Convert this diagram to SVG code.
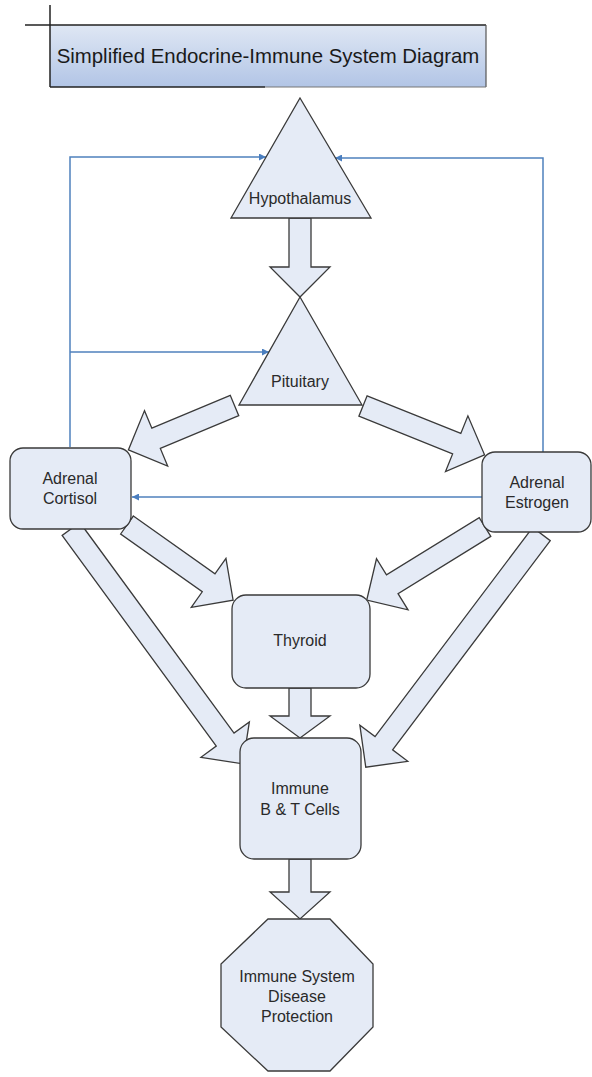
<svg xmlns="http://www.w3.org/2000/svg" width="592" height="1077" viewBox="0 0 592 1077">
<defs>
<linearGradient id="tg" x1="0" y1="0" x2="0" y2="1">
<stop offset="0" stop-color="#dfe7f4"/>
<stop offset="1" stop-color="#b2c5e6"/>
</linearGradient>
<marker id="ah" viewBox="0 0 10 10" refX="10" refY="5" markerWidth="8" markerHeight="7" orient="auto" markerUnits="userSpaceOnUse">
<path d="M0,0 L10,5 L0,10 Z" fill="#4a7ebf"/>
</marker>
<style>
.sh{fill:#e5ebf6;stroke:#3a3a3a;stroke-width:1.3;stroke-linejoin:miter}
.bl{fill:none;stroke:#4f81bd;stroke-width:1.5}
.t{font-family:"Liberation Sans",Arial,sans-serif;font-size:16px;fill:#2a2a2a;text-anchor:middle}
</style>
</defs>
<rect width="592" height="1077" fill="#ffffff"/>
<g id="title">
<rect x="50" y="25" width="436" height="62" fill="url(#tg)"/>
<line x1="25" y1="25" x2="486" y2="25" stroke="#222" stroke-width="1.3"/>
<line x1="50" y1="5" x2="50" y2="87" stroke="#222" stroke-width="1.5"/>
<line x1="486" y1="25" x2="486" y2="87" stroke="#555" stroke-width="1.2"/>
<line x1="50" y1="87" x2="265" y2="87" stroke="#222" stroke-width="1.5"/>
<line x1="265" y1="87" x2="486" y2="87" stroke="#777" stroke-width="1.2"/>
<text x="268" y="63" style="font-family:'Liberation Sans',Arial,sans-serif;font-size:20.4px;fill:#1a1a1a" text-anchor="middle">Simplified Endocrine-Immune System Diagram</text>
</g>
<g id="connectors">
<path class="sh" d="M289,218 H311 V267 H330 L300,297 L270,267 H289 Z"/>
<path class="sh" d="M289,688 H311 V716 H330 L300,738 L270,716 H289 Z"/>
<path class="sh" d="M289,859 H311 V892 H330 L300,919 L270,892 H289 Z"/>
<path class="sh" transform="translate(234.5,405.5) rotate(157.3)" d="M0,-11 H85 V-30 L115,0 L85,30 V11 H0 Z"/>
<path class="sh" transform="translate(363,406) rotate(21.9)" d="M0,-11 H101 V-30 L131,0 L101,30 V11 H0 Z"/>
<path class="sh" transform="translate(127,525) rotate(35.3)" d="M0,-11 H100 V-30 L130,0 L100,30 V11 H0 Z"/>
<path class="sh" transform="translate(71,529) rotate(53.8)" d="M0,-11 H261 V-30 L291,0 L261,30 V11 H0 Z"/>
<path class="sh" transform="translate(485,527) rotate(148.3)" d="M0,-11 H109 V-30 L139,0 L109,30 V11 H0 Z"/>
<path class="sh" transform="translate(541.5,534) rotate(127)" d="M0,-11 H262 V-30 L292,0 L262,30 V11 H0 Z"/>
<polyline class="bl" points="70,447 70,157 266,157" marker-end="url(#ah)"/>
<polyline class="bl" points="70,352 269,352" marker-end="url(#ah)"/>
<polyline class="bl" points="543,452 543,158 335,158" marker-end="url(#ah)"/>
<polyline class="bl" points="482,497 132,497" marker-end="url(#ah)"/>
</g>
<g id="hypothalamus">
<polygon class="sh" points="300,98 371,218 231,218"/>
<text class="t" x="300" y="204">Hypothalamus</text>
</g>
<g id="pituitary">
<polygon class="sh" points="300,297 362,405 239,405"/>
<text class="t" x="300" y="387">Pituitary</text>
</g>
<g id="adrenal-cortisol">
<rect class="sh" x="10" y="448" width="121" height="81" rx="13"/>
<text class="t" x="70" y="484">Adrenal</text>
<text class="t" x="70" y="504">Cortisol</text>
</g>
<g id="adrenal-estrogen">
<rect class="sh" x="482" y="452" width="109" height="80" rx="13"/>
<text class="t" x="537" y="488">Adrenal</text>
<text class="t" x="537" y="508">Estrogen</text>
</g>
<g id="thyroid">
<rect class="sh" x="232" y="595" width="138" height="93" rx="14"/>
<text class="t" x="300" y="646">Thyroid</text>
</g>
<g id="immune">
<rect class="sh" x="240" y="738" width="121" height="121" rx="14"/>
<text class="t" x="300" y="794">Immune</text>
<text class="t" x="300" y="815">B &amp; T Cells</text>
</g>
<g id="protection">
<polygon class="sh" points="268,919 330,919 373,964 373,1027 330,1071 268,1071 221,1027 221,964"/>
<text class="t" x="297" y="982">Immune System</text>
<text class="t" x="297" y="1002">Disease</text>
<text class="t" x="297" y="1022">Protection</text>
</g>
</svg>
